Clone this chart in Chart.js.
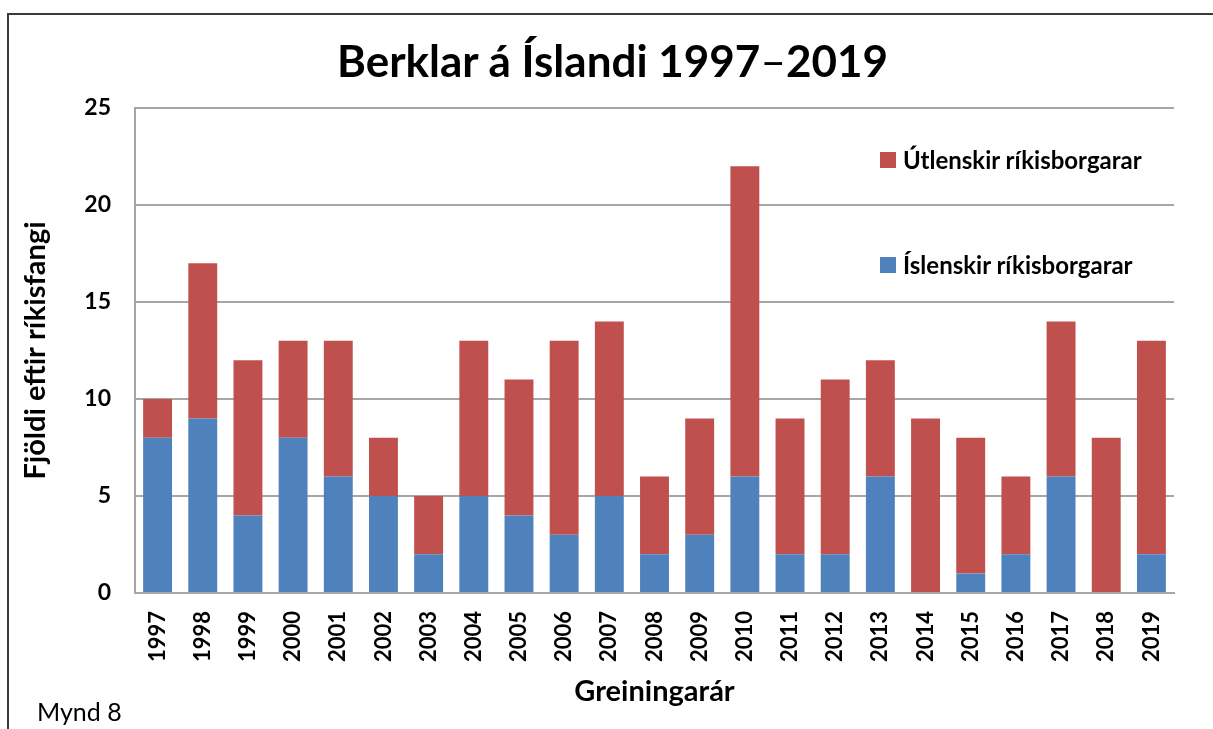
<!DOCTYPE html>
<html>
<head>
<meta charset="utf-8">
<script src="https://cdn.jsdelivr.net/npm/chart.js@4.4.1/dist/chart.umd.min.js"></script>
<style>
    body { margin: 0; background: #fff; font-family: Lato, sans-serif; }
    #wrap { position: relative; width: 1213px; height: 729px; overflow: hidden; }
    #frame { position: absolute; left: 7px; top: 13px; width: 1300px; height: 800px; border-left: 2px solid #3a3a3a; border-top: 2px solid #3a3a3a; }
    #title { position: absolute; left: 0; width: 1225px; top: 34px; text-align: center; font-weight: bold; font-size: 44px; color: #000; }
    #title .dash { font-weight: normal; }
    .leg { position: absolute; left: 880px; font-weight: bold; font-size: 24px; color: #000; display: flex; align-items: center; }
    .leg span.box { width: 16px; height: 16px; margin-right: 7px; display: inline-block; }
    #mynd { position: absolute; left: 37px; top: 696px; font-size: 25px; color: #000; }
    canvas { position: absolute; left: 0; top: 0; }
</style>
</head>
<body>
<div id="wrap">
    <div id="frame"></div>
    <canvas id="chart" width="1213" height="729"></canvas>
    <div id="title">Berklar á Íslandi 1997<span class="dash">–</span>2019</div>
    <div class="leg" style="top:145px"><span class="box" style="background:#C0504D"></span>Útlenskir ríkisborgarar</div>
    <div class="leg" style="top:250px"><span class="box" style="background:#4F81BD"></span>Íslenskir ríkisborgarar</div>
    <div id="mynd">Mynd 8</div>
</div>
<script>
// gögn
const years = ['1997','1998','1999','2000','2001','2002','2003','2004','2005','2006','2007','2008',
    '2009','2010','2011','2012','2013','2014','2015','2016','2017','2018','2019'];
const islenskir = [8, 9, 4, 8, 6, 5, 2, 5, 4, 3, 5, 2, 3, 6, 2, 2, 6, 0, 1, 2, 6, 0, 2];
const utlenskir = [2, 8, 8, 5, 7, 3, 3, 8, 7, 10, 9, 4, 6, 16, 7, 9, 6, 9, 7, 4, 8, 8, 11];
const yTicks = [0, 5, 10, 15, 20, 25];

const gridColor = '#a6a6a6';
const axisTitleFont = { family: 'Lato', weight: 'bold', size: 29 };

new Chart(document.getElementById('chart'), {
    type: 'bar',
    data: {
        labels: years,
        datasets: [
            { label: 'Íslenskir ríkisborgarar', data: islenskir, backgroundColor: '#4F81BD' },
            { label: 'Útlenskir ríkisborgarar', data: utlenskir, backgroundColor: '#C0504D' }
        ]
    },
    options: {
        responsive: false,
        animation: false,
        layout: { padding: { left: 18, right: 39, top: 108, bottom: 20 } },
        datasets: { bar: { categoryPercentage: 1, barPercentage: 0.64 } },
        plugins: { legend: { display: false }, tooltip: { enabled: false } },
        scales: {
            x: {
                stacked: true,
                grid: { display: false, drawTicks: false },
                border: { color: gridColor, width: 2 },
                ticks: { color: '#000', font: { family: 'Lato', weight: 'bold', size: 22 }, maxRotation: 90, minRotation: 90, padding: 18 },
                title: { display: true, text: 'Greiningarár', color: '#000', font: axisTitleFont, padding: 0 },
                afterFit: s => { s.height = 116; }
            },
            y: {
                stacked: true,
                min: 0, max: 25,
                afterBuildTicks: s => { s.ticks = yTicks.map(v => ({ value: v })); },
                grid: { color: gridColor, lineWidth: 2, drawTicks: false },
                border: { color: gridColor, width: 2 },
                ticks: { color: '#000', font: { family: 'Lato', weight: 'bold', size: 23 }, padding: 24 },
                title: { display: true, text: 'Fjöldi eftir ríkisfangi', color: '#000', font: axisTitleFont, padding: 0 },
                afterFit: s => { s.width = 117; }
            }
        }
    }
});
</script>
</body>
</html>
